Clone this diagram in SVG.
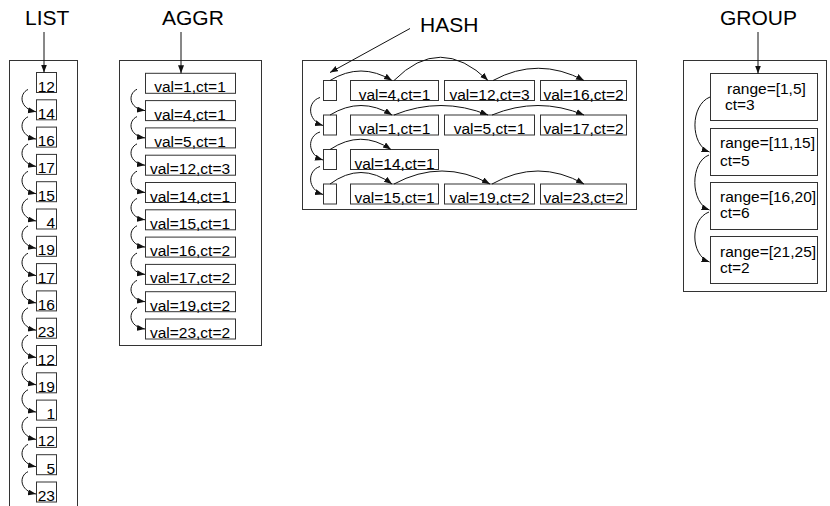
<svg xmlns="http://www.w3.org/2000/svg" width="830" height="506" viewBox="0 0 830 506">
<defs>
<marker id="ah" markerUnits="userSpaceOnUse" markerWidth="9" markerHeight="7" refX="8" refY="3" orient="auto">
<path d="M0,0 L8,3 L0,6 z" fill="#111"/>
</marker>
<style>
text{font-family:"Liberation Sans",Arial,Helvetica,sans-serif;fill:#000}
.t{font-size:21px}
.v{font-size:15.5px}
.c{text-anchor:middle}
.e{text-anchor:end}
.frame{fill:#fff;stroke:#333;stroke-width:1}
.box{fill:#fff;stroke:#333;stroke-width:1}
.con path,.con line{fill:none;stroke:#111;stroke-width:1;marker-end:url(#ah)}
</style>
</defs>
<rect width="830" height="506" fill="#fff"/>

<text class="t" x="25" y="25">LIST</text>
<text class="t" x="162" y="25">AGGR</text>
<text class="t" x="420" y="31.5">HASH</text>
<text class="t" x="720" y="25">GROUP</text>

<rect id="list-frame" class="frame" x="9.5" y="60.5" width="68" height="450"/>
<rect id="aggr-frame" class="frame" x="119.5" y="60.5" width="142" height="285"/>
<rect id="hash-frame" class="frame" x="302.5" y="60.5" width="334" height="149"/>
<rect id="group-frame" class="frame" x="683.5" y="60.5" width="143" height="231"/>

<g id="list">
<g id="l0"><rect class="box" x="36.5" y="72.5" width="20" height="20"/><text class="v e" x="55" y="91.5">12</text></g>
<g id="l1"><rect class="box" x="36.5" y="99.8" width="20" height="20"/><text class="v e" x="55" y="118.8">14</text></g>
<g id="l2"><rect class="box" x="36.5" y="127.1" width="20" height="20"/><text class="v e" x="55" y="146.1">16</text></g>
<g id="l3"><rect class="box" x="36.5" y="154.4" width="20" height="20"/><text class="v e" x="55" y="173.4">17</text></g>
<g id="l4"><rect class="box" x="36.5" y="181.7" width="20" height="20"/><text class="v e" x="55" y="200.7">15</text></g>
<g id="l5"><rect class="box" x="36.5" y="209" width="20" height="20"/><text class="v e" x="55" y="228">4</text></g>
<g id="l6"><rect class="box" x="36.5" y="236.3" width="20" height="20"/><text class="v e" x="55" y="255.3">19</text></g>
<g id="l7"><rect class="box" x="36.5" y="263.6" width="20" height="20"/><text class="v e" x="55" y="282.6">17</text></g>
<g id="l8"><rect class="box" x="36.5" y="290.9" width="20" height="20"/><text class="v e" x="55" y="309.9">16</text></g>
<g id="l9"><rect class="box" x="36.5" y="318.2" width="20" height="20"/><text class="v e" x="55" y="337.2">23</text></g>
<g id="l10"><rect class="box" x="36.5" y="345.5" width="20" height="20"/><text class="v e" x="55" y="364.5">12</text></g>
<g id="l11"><rect class="box" x="36.5" y="372.8" width="20" height="20"/><text class="v e" x="55" y="391.8">19</text></g>
<g id="l12"><rect class="box" x="36.5" y="400.1" width="20" height="20"/><text class="v e" x="55" y="419.1">1</text></g>
<g id="l13"><rect class="box" x="36.5" y="427.4" width="20" height="20"/><text class="v e" x="55" y="446.4">12</text></g>
<g id="l14"><rect class="box" x="36.5" y="454.7" width="20" height="20"/><text class="v e" x="55" y="473.7">5</text></g>
<g id="l15"><rect class="box" x="36.5" y="482" width="20" height="20"/><text class="v e" x="55" y="501">23</text></g>
</g>

<g id="aggr">
<g id="a0"><rect class="box" x="145.5" y="73.3" width="90" height="20"/><text class="v c" x="190" y="92.3">val=1,ct=1</text></g>
<g id="a1"><rect class="box" x="145.5" y="100.6" width="90" height="20"/><text class="v c" x="190" y="119.6">val=4,ct=1</text></g>
<g id="a2"><rect class="box" x="145.5" y="127.9" width="90" height="20"/><text class="v c" x="190" y="146.9">val=5,ct=1</text></g>
<g id="a3"><rect class="box" x="145.5" y="155.2" width="90" height="20"/><text class="v c" x="190" y="174.2">val=12,ct=3</text></g>
<g id="a4"><rect class="box" x="145.5" y="182.5" width="90" height="20"/><text class="v c" x="190" y="201.5">val=14,ct=1</text></g>
<g id="a5"><rect class="box" x="145.5" y="209.8" width="90" height="20"/><text class="v c" x="190" y="228.8">val=15,ct=1</text></g>
<g id="a6"><rect class="box" x="145.5" y="237.1" width="90" height="20"/><text class="v c" x="190" y="256.1">val=16,ct=2</text></g>
<g id="a7"><rect class="box" x="145.5" y="264.4" width="90" height="20"/><text class="v c" x="190" y="283.4">val=17,ct=2</text></g>
<g id="a8"><rect class="box" x="145.5" y="291.7" width="90" height="20"/><text class="v c" x="190" y="310.7">val=19,ct=2</text></g>
<g id="a9"><rect class="box" x="145.5" y="319" width="90" height="20"/><text class="v c" x="190" y="338">val=23,ct=2</text></g>
</g>

<g id="hash">
<g id="b0"><rect class="box" x="323.5" y="80.5" width="13" height="20"/></g>
<g id="b1"><rect class="box" x="323.5" y="115" width="13" height="20"/></g>
<g id="b2"><rect class="box" x="323.5" y="149.5" width="13" height="20"/></g>
<g id="b3"><rect class="box" x="323.5" y="184" width="13" height="20"/></g>
<g id="h00"><rect class="box" x="350.5" y="80.5" width="88" height="20"/><text class="v c" x="394.5" y="99.5">val=4,ct=1</text></g>
<g id="h01"><rect class="box" x="444.5" y="80.5" width="90" height="20"/><text class="v c" x="489.5" y="99.5">val=12,ct=3</text></g>
<g id="h02"><rect class="box" x="540.5" y="80.5" width="86" height="20"/><text class="v c" x="583.5" y="99.5">val=16,ct=2</text></g>
<g id="h10"><rect class="box" x="350.5" y="115" width="88" height="20"/><text class="v c" x="394.5" y="134">val=1,ct=1</text></g>
<g id="h11"><rect class="box" x="444.5" y="115" width="90" height="20"/><text class="v c" x="489.5" y="134">val=5,ct=1</text></g>
<g id="h12"><rect class="box" x="540.5" y="115" width="86" height="20"/><text class="v c" x="583.5" y="134">val=17,ct=2</text></g>
<g id="h20"><rect class="box" x="350.5" y="149.5" width="88" height="20"/><text class="v c" x="394.5" y="168.5">val=14,ct=1</text></g>
<g id="h30"><rect class="box" x="350.5" y="184" width="88" height="20"/><text class="v c" x="394.5" y="203">val=15,ct=1</text></g>
<g id="h31"><rect class="box" x="444.5" y="184" width="90" height="20"/><text class="v c" x="489.5" y="203">val=19,ct=2</text></g>
<g id="h32"><rect class="box" x="540.5" y="184" width="86" height="20"/><text class="v c" x="583.5" y="203">val=23,ct=2</text></g>
</g>

<g id="group">
<g id="g0"><rect class="box" x="710.5" y="73.5" width="107" height="47"/><text class="v" x="727" y="94">range=[1,5]</text><text class="v" x="725" y="110">ct=3</text></g>
<g id="g1"><rect class="box" x="710.5" y="128.5" width="107" height="47"/><text class="v" x="720" y="148">range=[11,15]</text><text class="v" x="720" y="166">ct=5</text></g>
<g id="g2"><rect class="box" x="710.5" y="182.5" width="107" height="47"/><text class="v" x="720" y="202">range=[16,20]</text><text class="v" x="720" y="218">ct=6</text></g>
<g id="g3"><rect class="box" x="710.5" y="236.5" width="107" height="47"/><text class="v" x="720" y="256.5">range=[21,25]</text><text class="v" x="720" y="273">ct=2</text></g>
</g>

<g id="connectors" class="con">
<line x1="44" y1="32" x2="44" y2="72.5"/>
<line x1="181" y1="32" x2="181" y2="73.3"/>
<line x1="758" y1="32" x2="758" y2="73.5"/>
<line x1="410" y1="28.5" x2="330" y2="72.5"/>

<path d="M28,89.5 C19,93.5 19,108.5 36,111.8"/>
<path d="M28,116.8 C19,120.8 19,135.8 36,139.1"/>
<path d="M28,144.1 C19,148.1 19,163.1 36,166.4"/>
<path d="M28,171.4 C19,175.4 19,190.4 36,193.7"/>
<path d="M28,198.7 C19,202.7 19,217.7 36,221"/>
<path d="M28,226 C19,230 19,245 36,248.3"/>
<path d="M28,253.3 C19,257.3 19,272.3 36,275.6"/>
<path d="M28,280.6 C19,284.6 19,299.6 36,302.9"/>
<path d="M28,307.9 C19,311.9 19,326.9 36,330.2"/>
<path d="M28,335.2 C19,339.2 19,354.2 36,357.5"/>
<path d="M28,362.5 C19,366.5 19,381.5 36,384.8"/>
<path d="M28,389.8 C19,393.8 19,408.8 36,412.1"/>
<path d="M28,417.1 C19,421.1 19,436.1 36,439.4"/>
<path d="M28,444.4 C19,448.4 19,463.4 36,466.7"/>
<path d="M28,471.7 C19,475.7 19,490.7 36,494"/>

<path d="M137,89.3 C128,93.3 128,108.3 145,110.6"/>
<path d="M137,116.6 C128,120.6 128,135.6 145,137.9"/>
<path d="M137,143.9 C128,147.9 128,162.9 145,165.2"/>
<path d="M137,171.2 C128,175.2 128,190.2 145,192.5"/>
<path d="M137,198.5 C128,202.5 128,217.5 145,219.8"/>
<path d="M137,225.8 C128,229.8 128,244.8 145,247.1"/>
<path d="M137,253.1 C128,257.1 128,272.1 145,274.4"/>
<path d="M137,280.4 C128,284.4 128,299.4 145,301.7"/>
<path d="M137,307.7 C128,311.7 128,326.7 145,329"/>

<path d="M320,97.5 C307,101.5 307,120.5 323,125.5"/>
<path d="M320,132 C307,136 307,155 323,160"/>
<path d="M320,166.5 C307,170.5 307,189.5 323,194.5"/>

<path d="M330,80.5 Q361,61.5 392,80.5"/>
<path d="M394,80.5 Q440,34 488,80.5"/>
<path d="M493,80.5 Q538,56 584,80.5"/>
<path d="M330,115 Q361,96 392,115"/>
<path d="M394,115 Q441,96 488,115"/>
<path d="M492,115 Q538,96 584,115"/>
<path d="M330,149.5 Q361,129 391,149.5"/>
<path d="M330,184 Q361,161 392,184"/>
<path d="M394,184 Q442,158 490,184"/>
<path d="M492,184 Q538,158 584,184"/>

<path d="M710,97 C690,105 690,145 709.5,152"/>
<path d="M709,155 C690,162 690,203 709.5,210"/>
<path d="M709,212 C690,219 690,255 709.5,262"/>
</g>
</svg>
